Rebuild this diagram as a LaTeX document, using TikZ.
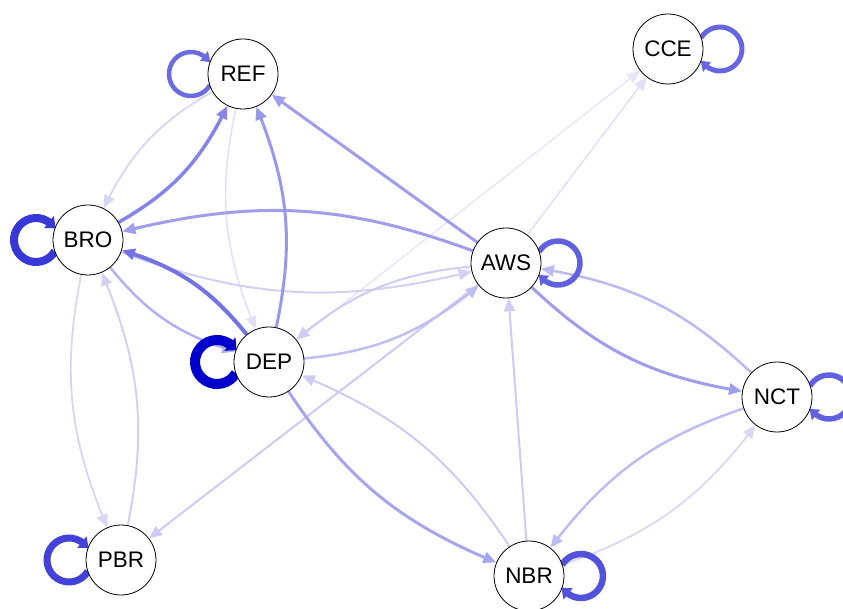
\documentclass[tikz,border=0pt]{standalone}
\usepackage{fontspec}
\setmainfont{Liberation Sans}
\usetikzlibrary{arrows.meta,calc,bending}
\definecolor{eb}{RGB}{0,0,204}
\pgfdeclarelayer{bg}
\pgfsetlayers{bg,main}
\newcommand{\selfloop}[5]{%
  \draw[line width=#4, color=eb!#3!white, -{Triangle[length=9pt,width=#5,bend]}]
    ($(#1)+(#2:52)+({#2+149.1}:22)$) arc[start angle={#2+149.1}, end angle={#2-149.1}, radius=22];
}
\begin{document}
\begin{tikzpicture}[x=1pt,y=1pt,
  vnode/.style={circle,draw=black,line width=0.8pt,fill=white,minimum size=70pt,inner sep=0pt,font=\fontsize{22.5}{22.5}\selectfont},
  edgest/.style n args={2}{line width=#1, color=eb!#2!white, -{Triangle[length=13pt,width=11pt]}},
  bnd/.style={bend right=17}
]
\useasboundingbox (0,0) rectangle (843,608);
\node[vnode] (REF) at (243,534) {REF};
\node[vnode] (CCE) at (668,559) {CCE};
\node[vnode] (BRO) at (88,368) {BRO};
\node[vnode] (AWS) at (506,345) {AWS};
\node[vnode] (DEP) at (269,246) {DEP};
\node[vnode] (NCT) at (777,211) {NCT};
\node[vnode] (PBR) at (121,48) {PBR};
\node[vnode] (NBR) at (529,32) {NBR};
\begin{pgfonlayer}{bg}
\fill[white] (0,0) rectangle (843,608);
% faint edges first
\draw[edgest={1.3pt}{10}] (DEP) -- (CCE);
\draw[edgest={1.5pt}{12}] (AWS) -- (CCE);
\draw[edgest={1.5pt}{12}] (REF) to[bnd] (DEP);
\draw[edgest={1.8pt}{15}] (NBR) to[bnd] (NCT);
\draw[edgest={1.8pt}{16}] (REF) to[bnd] (BRO);
\draw[edgest={1.8pt}{16}] (BRO) to[bnd] (PBR);
\draw[edgest={2pt}{18}] (PBR) to[bnd] (BRO);
\draw[edgest={2pt}{18}] (BRO) to[bnd] (AWS);
\draw[edgest={2pt}{20}] (AWS) to[bnd] (DEP);
\draw[edgest={2pt}{20}] (AWS) -- (PBR);
\draw[edgest={2pt}{20}] (NBR) to[bnd] (DEP);
\draw[edgest={2pt}{20}] (NBR) -- (AWS);
\draw[edgest={2.5pt}{25}] (DEP) to[bnd] (AWS);
\draw[edgest={2.5pt}{26}] (NCT) to[bnd] (NBR);
\draw[edgest={2.5pt}{27}] (NCT) to[bnd] (AWS);
\draw[edgest={2.5pt}{30}] (BRO) to[bnd] (DEP);
\draw[edgest={3pt}{35}] (DEP) to[bnd] (NBR);
\draw[edgest={3pt}{38}] (AWS) to[bnd] (NCT);
\draw[edgest={3pt}{38}] (AWS) to[bnd] (BRO);
\draw[edgest={3pt}{38}] (AWS) -- (REF);
\draw[edgest={3pt}{40}] (DEP) to[bnd] (REF);
\draw[edgest={3.5pt}{48}] (BRO) to[bnd] (REF);
\draw[edgest={4pt}{55}] (DEP) to[bnd] (BRO);
% self loops
\selfloop{REF}{180}{58}{4.5pt}{12pt}
\selfloop{CCE}{0}{60}{5pt}{12pt}
\selfloop{AWS}{0}{62}{5.5pt}{13pt}
\selfloop{NCT}{0}{62}{5.5pt}{13pt}
\selfloop{NBR}{0}{68}{6.5pt}{14pt}
\selfloop{PBR}{180}{74}{7pt}{14pt}
\selfloop{BRO}{180}{78}{8pt}{15pt}
\selfloop{DEP}{180}{100}{10pt}{17pt}
\end{pgfonlayer}
\end{tikzpicture}
\end{document}
